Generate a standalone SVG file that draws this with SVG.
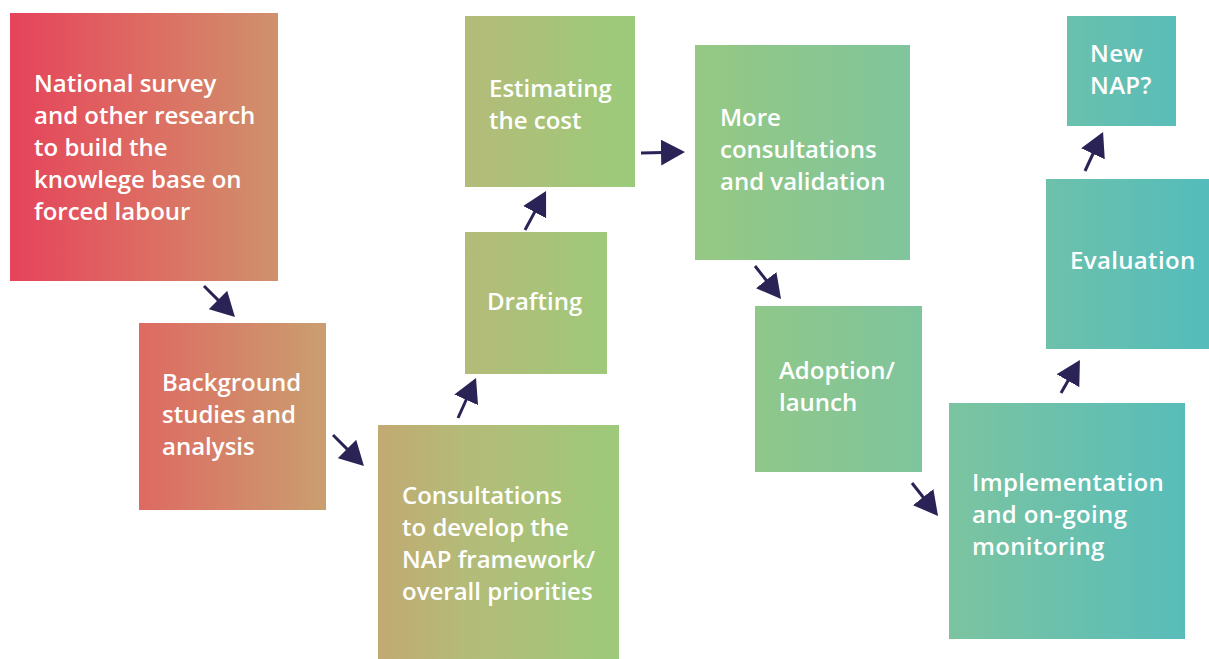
<svg xmlns="http://www.w3.org/2000/svg" width="1209" height="659" viewBox="0 0 1209 659">
<style>
.t{font-family:"Open Sans","Noto Sans","Liberation Sans",sans-serif;font-weight:600;font-size:24px;fill:#ffffff}
.w{letter-spacing:0.35px}
.b{fill:url(#g)}
.c{stroke:#2a2356;stroke-width:3;fill:none;marker-end:url(#ah)}
</style>
<defs>
<linearGradient id="g" gradientUnits="userSpaceOnUse" x1="0" y1="0" x2="1209" y2="0">
<stop offset="0" stop-color="#e6405a"/>
<stop offset="0.116" stop-color="#de6a62"/>
<stop offset="0.273" stop-color="#c9a070"/>
<stop offset="0.385" stop-color="#b4bb78"/>
<stop offset="0.513" stop-color="#9dca7a"/>
<stop offset="0.629" stop-color="#8fc78a"/>
<stop offset="0.785" stop-color="#7cc4a0"/>
<stop offset="1" stop-color="#54bcbc"/>
</linearGradient>
<marker id="ah" viewBox="0 0 24 26" refX="2" refY="13" markerWidth="24" markerHeight="26" markerUnits="userSpaceOnUse" orient="auto">
<path d="M0,0 L24,13 L0,26 Z" fill="#2a2356"/>
</marker>
</defs>
<rect width="1209" height="659" fill="#ffffff"/>
<g id="n1"><rect class="b" x="10" y="13" width="268" height="268"/>
<text class="t"><tspan x="34" y="92">National survey</tspan><tspan x="34" y="124">and other research</tspan><tspan x="34" y="156">to build the</tspan><tspan x="34" y="188">knowlege base on</tspan><tspan x="34" y="220">forced labour</tspan></text></g>
<g id="n2"><rect class="b" x="139" y="323" width="187" height="187"/>
<text class="t"><tspan x="162" y="391">Background</tspan><tspan x="162" y="423">studies and</tspan><tspan x="162" y="455">analysis</tspan></text></g>
<g id="n3"><rect class="b" x="378" y="425" width="241" height="234"/>
<text class="t"><tspan x="402" y="504">Consultations</tspan><tspan x="402" y="536">to develop the</tspan><tspan x="402" y="568">NAP framework/</tspan><tspan x="402" y="600">overall priorities</tspan></text></g>
<g id="n4"><rect class="b" x="465" y="232" width="142" height="142"/>
<text class="t"><tspan x="487" y="310">Drafting</tspan></text></g>
<g id="n5"><rect class="b" x="465" y="16" width="170" height="171"/>
<text class="t"><tspan x="489" y="97">Estimating</tspan><tspan x="489" y="129">the cost</tspan></text></g>
<g id="n6"><rect class="b" x="695" y="45" width="215" height="215"/>
<text class="t"><tspan x="720" y="126">More</tspan><tspan x="720" y="158">consultations</tspan><tspan x="720" y="190">and validation</tspan></text></g>
<g id="n7"><rect class="b" x="755" y="306" width="167" height="166"/>
<text class="t"><tspan x="779" y="379">Adoption/</tspan><tspan x="779" y="411">launch</tspan></text></g>
<g id="n8"><rect class="b" x="949" y="403" width="236" height="236"/>
<text class="t w"><tspan x="972" y="491">Implementation</tspan><tspan x="972" y="523">and on-going</tspan><tspan x="972" y="555">monitoring</tspan></text></g>
<g id="n9"><rect class="b" x="1046" y="179" width="163" height="170"/>
<text class="t w"><tspan x="1070" y="269">Evaluation</tspan></text></g>
<g id="n10"><rect class="b" x="1067" y="16" width="109" height="110"/>
<text class="t w"><tspan x="1090" y="62">New</tspan><tspan x="1090" y="94">NAP?</tspan></text></g>
<g id="connectors">
<path class="c" d="M204,286 L219.4,301.4"/>
<path class="c" d="M333,435 L348.4,450.4"/>
<path class="c" d="M458,418 L467,398"/>
<path class="c" d="M525,230 L535.6,210.4"/>
<path class="c" d="M641,153 L663,152.5"/>
<path class="c" d="M755,266 L767.4,281.7"/>
<path class="c" d="M912,483 L924.4,498.7"/>
<path class="c" d="M1061,393 L1069,379"/>
<path class="c" d="M1085,171 L1093.8,152"/>
</g>
</svg>
